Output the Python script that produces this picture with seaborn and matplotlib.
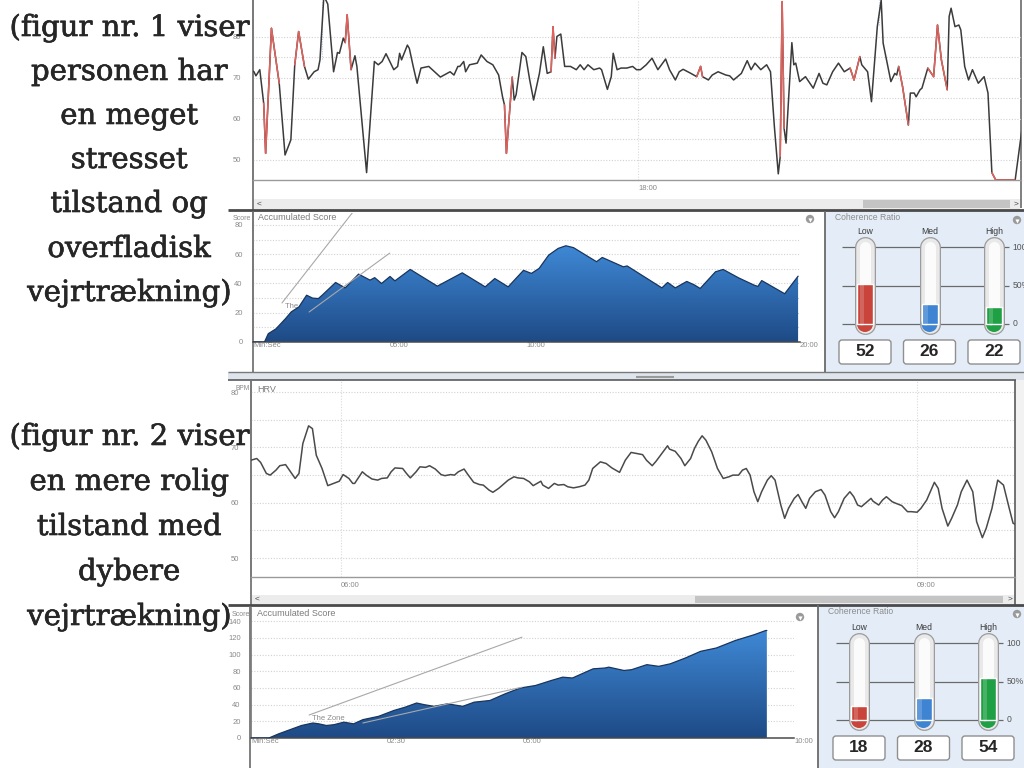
import numpy as np
import matplotlib
matplotlib.use('Agg')
import matplotlib.pyplot as plt
import matplotlib.patheffects as pe
import seaborn as sns
from matplotlib.patches import Rectangle, FancyBboxPatch, Circle
from matplotlib.colors import LinearSegmentedColormap

# ---------------------------------------------------------
# data
caption_1 = ['(figur nr. 1 viser', 'personen har', 'en meget', 'stresset',
             'tilstand og', 'overfladisk', 'vejrtrækning)']
caption_2 = ['(figur nr. 2 viser', 'en mere rolig', 'tilstand med', 'dybere',
             'vejrtrækning)']

# HRV 1 (minutes, BPM, 1 = red artifact segment to next point)
hrv1_time = [16.00, 16.02, 16.03, 16.05, 16.07, 16.08, 16.11, 16.15, 16.18, 16.21,
             16.23, 16.25, 16.28, 16.30, 16.33, 16.35, 16.36, 16.38, 16.40, 16.43,
             16.45, 16.46, 16.48, 16.49, 16.50, 16.52, 16.54, 16.55, 16.60, 16.64,
             16.66, 16.68, 16.70, 16.74, 16.76, 16.77, 16.78, 16.81, 16.82, 16.84,
             16.86, 16.88, 16.92, 16.98, 17.03, 17.05, 17.07, 17.08, 17.10, 17.11,
             17.13, 17.17, 17.19, 17.22, 17.25, 17.28, 17.30, 17.31, 17.32, 17.35,
             17.36, 17.37, 17.40, 17.42, 17.44, 17.46, 17.49, 17.51, 17.53, 17.55,
             17.56, 17.57, 17.58, 17.60, 17.62, 17.65, 17.68, 17.70, 17.72, 17.74,
             17.77, 17.80, 17.81, 17.84, 17.86, 17.87, 17.89, 17.91, 17.94, 17.97,
             17.99, 18.01, 18.04, 18.07, 18.10, 18.14, 18.16, 18.19, 18.21, 18.23,
             18.27, 18.30, 18.32, 18.33, 18.36, 18.38, 18.41, 18.45, 18.47, 18.49,
             18.53, 18.56, 18.58, 18.60, 18.63, 18.66, 18.68, 18.70, 18.72, 18.73,
             18.74, 18.75, 18.76, 18.79, 18.80, 18.81, 18.83, 18.86, 18.90, 18.93,
             18.95, 18.97, 19.00, 19.03, 19.06, 19.09, 19.11, 19.14, 19.15, 19.18,
             19.20, 19.23, 19.25, 19.26, 19.30, 19.32, 19.33, 19.34, 19.36, 19.39,
             19.40, 19.42, 19.43, 19.45, 19.46, 19.49, 19.52, 19.54, 19.56, 19.59,
             19.60, 19.61, 19.63, 19.65, 19.66, 19.68, 19.70, 19.72, 19.75, 19.78,
             19.80, 19.82, 19.84, 19.94, 19.98]
hrv1_bpm = [72.0, 71.5, 70.5, 72.0, 63.8, 51.6, 82.1, 68.7, 51.2, 54.9,
            73.2, 81.3, 72.8, 69.7, 71.5, 72.0, 74.4, 90.0, 88.0, 71.5,
            76.2, 76.0, 79.7, 78.6, 85.4, 72.0, 75.4, 72.8, 46.9, 74.0,
            73.2, 74.0, 75.9, 72.0, 72.8, 76.0, 74.4, 78.0, 77.2, 72.8,
            68.7, 72.4, 72.8, 70.2, 71.5, 70.7, 72.8, 72.8, 74.0, 71.5,
            73.2, 73.6, 75.6, 74.0, 73.2, 70.7, 65.4, 63.4, 51.6, 70.2,
            64.6, 65.9, 76.2, 75.2, 69.5, 64.6, 71.1, 77.6, 71.1, 71.5,
            82.5, 74.8, 80.1, 80.7, 72.8, 72.8, 72.0, 73.2, 72.0, 73.2,
            72.0, 72.4, 72.0, 67.2, 70.3, 76.0, 72.0, 72.4, 72.4, 72.8,
            72.0, 72.0, 73.2, 74.8, 72.0, 74.6, 72.0, 69.5, 71.5, 72.1,
            71.1, 70.3, 72.8, 70.3, 69.5, 70.7, 71.5, 70.7, 70.5, 69.5,
            71.1, 74.2, 72.0, 73.6, 72.0, 73.2, 71.5, 58.1, 46.6, 50.8,
            88.6, 57.7, 54.1, 78.6, 73.2, 73.6, 69.1, 70.3, 67.5, 71.1,
            68.7, 68.3, 71.5, 73.6, 71.5, 72.4, 69.5, 75.2, 73.2, 71.5,
            64.2, 82.5, 89.0, 78.5, 69.1, 71.1, 70.7, 72.8, 67.9, 58.5,
            66.3, 66.3, 65.4, 67.1, 67.5, 72.4, 70.3, 82.9, 74.4, 67.1,
            85.0, 87.0, 82.5, 82.9, 81.7, 72.8, 69.5, 72.0, 68.7, 70.3,
            66.3, 46.9, 45.1, 45.1, 59.3]
hrv1_artifact = [0, 0, 0, 0, 1, 1, 1, 0, 0, 0,
                 1, 1, 0, 0, 0, 0, 0, 0, 0, 0,
                 0, 0, 0, 1, 1, 0, 0, 0, 0, 0,
                 0, 0, 0, 0, 0, 0, 0, 0, 0, 0,
                 0, 0, 0, 0, 0, 0, 0, 0, 0, 0,
                 0, 0, 0, 0, 0, 0, 0, 1, 1, 0,
                 0, 0, 0, 0, 0, 0, 0, 0, 0, 1,
                 1, 0, 0, 0, 0, 0, 0, 0, 0, 0,
                 0, 0, 0, 0, 0, 0, 0, 0, 0, 0,
                 0, 0, 0, 0, 0, 0, 0, 0, 0, 0,
                 0, 1, 1, 0, 0, 0, 0, 0, 0, 0,
                 0, 0, 0, 0, 0, 0, 0, 0, 0, 1,
                 1, 0, 0, 0, 0, 0, 0, 0, 0, 0,
                 0, 0, 0, 0, 0, 1, 1, 0, 0, 0,
                 0, 0, 0, 0, 0, 0, 0, 1, 1, 0,
                 0, 0, 0, 0, 0, 1, 1, 1, 1, 0,
                 0, 0, 0, 0, 0, 0, 0, 0, 0, 0,
                 0, 1, 1, 0, 0]

# HRV 2 (minutes, BPM)
hrv2_time = [5.53, 5.56, 5.58, 5.61, 5.63, 5.66, 5.68, 5.71, 5.73, 5.76,
             5.78, 5.80, 5.83, 5.85, 5.87, 5.90, 5.93, 5.96, 5.99, 6.01,
             6.04, 6.06, 6.07, 6.11, 6.13, 6.16, 6.19, 6.21, 6.24, 6.26,
             6.28, 6.32, 6.34, 6.36, 6.39, 6.41, 6.44, 6.46, 6.49, 6.52,
             6.54, 6.57, 6.59, 6.61, 6.64, 6.66, 6.69, 6.72, 6.74, 6.77,
             6.79, 6.82, 6.85, 6.87, 6.90, 6.92, 6.95, 6.98, 7.00, 7.04,
             7.05, 7.08, 7.11, 7.13, 7.16, 7.18, 7.21, 7.24, 7.27, 7.29,
             7.31, 7.35, 7.38, 7.41, 7.45, 7.48, 7.51, 7.54, 7.57, 7.59,
             7.62, 7.64, 7.67, 7.70, 7.71, 7.74, 7.77, 7.79, 7.82, 7.84,
             7.86, 7.88, 7.90, 7.93, 7.96, 7.99, 8.02, 8.04, 8.07, 8.09,
             8.11, 8.13, 8.15, 8.17, 8.19, 8.22, 8.24, 8.26, 8.29, 8.31,
             8.33, 8.36, 8.38, 8.40, 8.42, 8.44, 8.47, 8.50, 8.52, 8.55,
             8.57, 8.59, 8.62, 8.65, 8.67, 8.69, 8.71, 8.73, 8.76, 8.77,
             8.80, 8.82, 8.84, 8.87, 8.89, 8.92, 8.95, 8.97, 9.00, 9.02,
             9.05, 9.09, 9.11, 9.13, 9.16, 9.18, 9.21, 9.23, 9.26, 9.29,
             9.31, 9.34, 9.36, 9.39, 9.42, 9.45, 9.48, 9.50, 9.52]
hrv2_bpm = [67.7, 68.0, 67.3, 65.3, 65.0, 65.9, 66.7, 66.9, 65.9, 64.4,
            65.3, 70.7, 73.9, 73.4, 68.6, 66.2, 63.1, 63.5, 63.9, 65.1,
            64.4, 63.5, 63.5, 65.6, 65.0, 64.3, 64.1, 64.4, 64.5, 65.6,
            66.3, 66.2, 65.3, 64.5, 65.6, 66.5, 66.4, 66.7, 66.1, 65.1,
            64.9, 65.1, 65.0, 65.6, 66.1, 65.1, 63.7, 63.3, 63.2, 62.3,
            61.9, 62.6, 63.5, 64.1, 64.7, 64.5, 64.4, 63.8, 63.1, 63.9,
            63.2, 62.6, 63.5, 63.2, 63.3, 62.9, 62.7, 62.9, 63.2, 64.1,
            66.2, 67.4, 67.1, 66.3, 65.5, 67.7, 69.1, 68.9, 68.7, 67.7,
            66.7, 67.5, 68.9, 70.3, 69.7, 69.3, 68.0, 66.7, 68.0, 69.8,
            71.1, 72.1, 71.3, 69.2, 66.2, 64.4, 64.7, 65.0, 65.0, 65.9,
            66.2, 65.0, 62.0, 60.2, 62.0, 64.1, 64.9, 64.1, 59.6, 57.2,
            59.0, 60.8, 61.5, 60.2, 59.0, 60.8, 62.0, 62.4, 61.4, 58.4,
            57.3, 58.4, 60.8, 62.0, 61.1, 59.6, 59.3, 59.9, 60.8, 60.3,
            59.6, 60.5, 61.1, 60.2, 59.9, 59.5, 58.4, 58.4, 58.3, 59.0,
            60.5, 63.7, 62.6, 59.0, 55.8, 57.2, 59.6, 62.0, 64.1, 62.0,
            56.6, 53.7, 55.4, 59.0, 64.1, 63.2, 59.0, 56.3, 56.0]

# Accumulated score 1 (minutes, score)
score1_time = [0, 0.42, 0.56, 0.84, 1.19, 1.40, 1.68, 1.96, 2.18, 2.39, 2.53, 3.02,
               3.37, 3.86, 4.28, 4.45, 4.70, 5.01, 5.19, 5.75, 6.74, 7.65, 8.49,
               8.84, 9.33, 9.89, 10.18, 10.46, 10.81, 11.16, 11.44, 11.72, 12.56,
               12.77, 13.54, 13.68, 14.95, 15.16, 15.44, 15.86, 16.14, 16.35, 16.91,
               17.19, 17.75, 18.32, 18.46, 18.60, 19.44, 19.93]
score1_value = [0, 0, 5.7, 9, 16, 20.6, 24, 32, 30, 29.7, 32, 40.7,
                37, 46.4, 42.3, 44, 40, 44.8, 41.8, 49.6, 38.2, 47.3, 37.7,
                43.4, 37.7, 49, 46.9, 50.3, 59.4, 64, 65.8, 64.5, 54.9,
                57.8, 51.4, 52, 37, 40.7, 37, 41.4, 39, 36.6, 48,
                49.6, 43.9, 38.9, 38, 42, 33, 45]

# Accumulated score 2 (minutes, score)
score2_time = [0, 0.33, 0.51, 0.72, 0.93, 1.14, 1.25, 1.39, 1.53, 1.71, 1.89, 2.06,
               2.35, 2.63, 2.84, 3.05, 3.19, 3.37, 3.62, 3.90, 4.11, 4.40, 4.68,
               4.96, 5.24, 5.53, 5.74, 5.92, 6.30, 6.52, 6.59, 6.87, 7.01, 7.29,
               7.51, 7.72, 8.00, 8.28, 8.57, 8.92, 9.27, 9.48, 9.50]
score2_value = [0, 0, 5, 10, 15, 18, 17, 15, 16, 19, 17, 22,
                26, 33, 37, 42, 40, 38, 41, 38, 43, 45, 53,
                60, 63, 69, 73, 72, 83, 84, 85, 81, 82, 88,
                86, 89, 96, 104, 108, 117, 124, 129, 129]

# "The Zone" guide lines: (t0, v0, t1, v1)
zone1_upper = [1.06, 26.7, 3.66, 89.0]
zone1_lower = [2.05, 20.5, 5.00, 60.8]
zone2_upper = [1.07, 27.6, 4.99, 121.0]
zone2_lower = [2.06, 18.0, 4.99, 61.0]

coh_labels = ['Low', 'Med', 'High']
coh1_values = [52, 26, 22]
coh2_values = [18, 28, 54]
coh_colors = ['#c9443b', '#3f84d2', '#1fa044']

# ---------------------------------------------------------
sns.set_theme(style='white')
plt.rcParams['font.family'] = ['Liberation Sans', 'DejaVu Sans']
plt.rcParams['axes.unicode_minus'] = False

W, H = 1024, 768
fig = plt.figure(figsize=(10.24, 7.68), dpi=100)
fig.patch.set_facecolor('white')

GRAY_TXT = '#8a8a8a'
FS_TICK = 5.5


def pt(px):
    return px * 0.72


def add_px_axes(x0, y0, x1, y1, z=2):
    ax = fig.add_axes([x0 / W, 1 - y1 / H, (x1 - x0) / W, (y1 - y0) / H], zorder=z)
    ax.patch.set_alpha(0)
    for s in ax.spines.values():
        s.set_visible(False)
    return ax


bg = fig.add_axes([0, 0, 1, 1], zorder=0)
bg.set_xlim(0, W)
bg.set_ylim(H, 0)
bg.axis('off')


def bg_line(x0, y0, x1, y1, color='#5a5a5a', lw=1.0):
    bg.plot([x0, x1], [y0, y1], color=color, lw=lw, solid_capstyle='butt')


def bg_rect(x0, y0, x1, y1, fc, ec='none', lw=0.0):
    bg.add_patch(Rectangle((x0, y0), x1 - x0, y1 - y0, fc=fc, ec=ec, lw=lw))


def menu_icon(x, y):
    bg.add_patch(Circle((x, y), 4.2, fc='#9a9a9a', ec='none'))
    bg.plot([x], [y + 0.6], marker='v', ms=3, color='white', mec='none')


def scrollbar(x0, x1, y0, y1, t0, t1):
    bg_rect(x0, y0, x1, y1, '#ececec')
    bg_rect(t0, y0 + 1, t1, y1 - 1, '#c4c4c4')
    bg.text(x0 + 5, (y0 + y1) / 2, '<', fontsize=6, color='#444', va='center', ha='center')
    bg.text(x1 - 4, (y0 + y1) / 2, '>', fontsize=6, color='#444', va='center', ha='center')


def style_ticks(ax):
    ax.tick_params(axis='both', which='both', colors='#8c8c8c', labelcolor=GRAY_TXT,
                   labelsize=FS_TICK, direction='out', width=0.7)


def hrv_axis(ax, t, bpm, xlim, ylim, xticks, xlabels, vgrid, color):
    sns.lineplot(x=t, y=bpm, ax=ax, color=color, lw=1.1, sort=False,
                 estimator=None, zorder=3)
    ax.set_xlim(*xlim)
    ax.set_ylim(*ylim)
    for g in range(50, 85, 5):
        ax.axhline(g, color='#d2d2d2', ls=(0, (1, 1.5)), lw=0.8, zorder=1)
    for g in vgrid:
        ax.axvline(g, color='#dadada', ls=(0, (1, 1.5)), lw=0.8, zorder=1)
    ax.spines['left'].set_visible(True)
    ax.spines['left'].set_color('#7a7a7a')
    ax.spines['left'].set_linewidth(1.2)
    ax.spines['bottom'].set_visible(True)
    ax.spines['bottom'].set_color('#9a9a9a')
    ax.spines['bottom'].set_linewidth(1.0)
    ax.set_yticks([50, 60, 70, 80])
    ax.set_yticks(np.arange(np.ceil(ylim[0]), ylim[1], 1), minor=True)
    ax.set_xticks(xticks)
    ax.set_xticklabels(xlabels)
    ax.set_xticks([], minor=True)
    style_ticks(ax)
    ax.tick_params(axis='y', which='major', length=pt(11), pad=1)
    ax.tick_params(axis='y', which='minor', length=pt(5))
    ax.tick_params(axis='x', which='major', length=pt(4), pad=1)
    for lab in ax.get_xticklabels():
        lab.set_horizontalalignment('left')
    ax.set_xlabel('')
    ax.set_ylabel('')


def score_axis(ax, t, v, xmax, ymax, yticks, xticks, xlabels, grid_step, zone_a, zone_b):
    poly = ax.fill_between(t, v, 0, facecolor='none', edgecolor='none')
    grad = np.linspace(0, 1, 256).reshape(-1, 1)
    cmap = LinearSegmentedColormap.from_list('acc', ['#1e4a86', '#3f89d6'])
    im = ax.imshow(grad, cmap=cmap, origin='lower', aspect='auto',
                   extent=[min(t), max(t), 0, max(v)], zorder=2)
    im.set_clip_path(poly.get_paths()[0], transform=ax.transData)
    sns.lineplot(x=t, y=v, ax=ax, color='#18355e', lw=0.9, sort=False,
                 estimator=None, zorder=3)
    for z in (zone_a, zone_b):
        ax.plot([z[0], z[2]], [z[1], z[3]], color='#a8a8a8', lw=0.8, zorder=4)
    ax.text(zone_a[0] + 0.06 * xmax / 10, zone_a[1] - 0.03 * ymax, 'The Zone',
            fontsize=5.5, color='#8a8a8a', ha='left', va='center', zorder=1)
    for g in np.arange(grid_step, ymax, grid_step):
        ax.axhline(g, color='#d2d2d2', ls=(0, (1, 1.5)), lw=0.8, zorder=1)
    ax.set_xlim(0, xmax)
    ax.set_ylim(0, ymax)
    ax.spines['left'].set_visible(True)
    ax.spines['left'].set_color('#7a7a7a')
    ax.spines['bottom'].set_visible(True)
    ax.spines['bottom'].set_color('#4a4a4a')
    ax.spines['bottom'].set_linewidth(1.1)
    ax.set_yticks(yticks)
    ax.set_xticks(xticks)
    ax.set_xticklabels(xlabels)
    style_ticks(ax)
    ax.tick_params(axis='y', length=pt(9), pad=1)
    ax.tick_params(axis='x', length=pt(8), pad=-pt(8))
    for lab in ax.get_xticklabels():
        lab.set_horizontalalignment('left')
        lab.set_verticalalignment('top')
    ax.set_xlabel('')
    ax.set_ylabel('')


def coherence_panel(x0, y0, x1, y1, zero_px, hundred_px, c0_px, values):
    sp = 64.5
    bg_rect(x0, y0, x1, y1, '#e4edf7')
    bg_line(x0, y0, x0, y1, color='#6a6a6a', lw=1.3)
    bg.text(x0 + 10, y0 + 7, 'Coherence Ratio', fontsize=6.2, color='#8c8c8c', va='center')
    menu_icon(x1 - 7, y0 + 9)
    for i in range(3):
        cx = c0_px + i * sp
        bg.add_patch(FancyBboxPatch((cx - 26, zero_px + 16), 52, 24,
                                    boxstyle='round,pad=0,rounding_size=3',
                                    fc='white', ec='#8f8f8f', lw=1.0))
    ppp = (zero_px - hundred_px) / 100.0
    ax = add_px_axes(x0, y0, x1, y1, z=3)
    ax.axis('off')
    sns.barplot(x=coh_labels, y=values, hue=coh_labels, palette=coh_colors,
                width=16 / sp, legend=False, ax=ax, zorder=4, saturation=1)
    ax.hlines([0, 50, 100], -0.36, 2.23, color='#6a6a6a', lw=0.9, zorder=1)
    for i, (lab, val, col) in enumerate(zip(coh_labels, values, coh_colors)):
        ax.plot([i, i], [0, 100], color='#9b9b9b', lw=pt(21), solid_capstyle='round', zorder=2)
        ax.plot([i, i], [0, 100], color='#e9e9e9', lw=pt(18.5), solid_capstyle='round', zorder=2)
        ax.plot([i, i], [0, 100], color='#fbfbfb', lw=pt(11), solid_capstyle='round', zorder=2)
        ax.scatter([i], [0], s=pt(16) ** 2, color=col, edgecolor='none', zorder=3)
        ax.plot([i - 0.05, i - 0.05], [0, val], color='white', alpha=0.18, lw=pt(4), zorder=5)
        ax.text(i, 100 + 15 / ppp, lab, fontsize=6.2, color='#3a3a3a', ha='center', va='center')
        ax.text(i, -28 / ppp, f'{val}', fontsize=12.5, fontweight='bold', color='#262626',
                ha='center', va='center', zorder=5)
    for pct, lab in zip([100, 50, 0], ['100', '50%', '0']):
        ax.text(2.29, pct, lab, fontsize=6.2, color='#555555', ha='left', va='center')
    ax.set_ylim(-(y1 - zero_px) / ppp, 100 + (hundred_px - y0) / ppp)
    ax.set_xlim(-(c0_px - x0) / sp, (x1 - c0_px) / sp)
    ax.set_xlabel('')
    ax.set_ylabel('')


# ---------------------------------------------------------
# panel frames / chrome
bg_rect(228, 372, 1024, 380, '#dfe5ec')
bg_line(636, 377, 674, 377, color='#9a9a9a', lw=1.5)
bg_rect(1015, 380, 1024, 605, '#f2f2f2')
bg_line(253, 0, 253, 210, color='#6a6a6a', lw=1.2)
bg_line(1021, 0, 1021, 208, color='#6a6a6a', lw=1.2)
bg_line(228, 210, 1024, 210, color='#4a4a4a', lw=2.0)
bg_line(253, 211, 253, 372, color='#6a6a6a', lw=1.2)
bg_line(228, 372, 1024, 372, color='#7a7a7a', lw=1.0)
bg_line(228, 380, 1016, 380, color='#5a5a5a', lw=1.2)
bg_line(251, 380, 251, 605, color='#6a6a6a', lw=1.2)
bg_line(1015, 380, 1015, 605, color='#5a5a5a', lw=1.2)
bg_line(228, 605, 1024, 605, color='#4a4a4a', lw=2.0)
bg_line(250, 606, 250, 768, color='#6a6a6a', lw=1.2)

scrollbar(254, 1020, 199, 209, 863, 1010)
scrollbar(252, 1014, 595, 604, 695, 1003)

# ---------------------------------------------------------
# HRV 1
ax1 = add_px_axes(253, 0, 1021, 180)
hrv_axis(ax1, hrv1_time, hrv1_bpm, (16.015, 19.97), (45.1, 89.0),
         np.arange(16.5, 19.6, 0.5), ['', '', '', '18:00', '', '', ''], [18.0], '#3b3b3b')
for i, flag in enumerate(hrv1_artifact[:-1]):
    if flag:
        ax1.plot(hrv1_time[i:i + 2], hrv1_bpm[i:i + 2], color='#e3625c', lw=1.1, zorder=4)
ax1.plot([16.37, 16.37], [74.5, 89], color='#b9cde2', ls=(0, (1, 1.2)), lw=0.8, zorder=2)
ax1.plot([19.24, 19.24], [83, 89], color='#b9cde2', ls=(0, (1, 1.2)), lw=0.8, zorder=2)

# accumulated score 1
ax2 = add_px_axes(253, 213, 800, 342)
score_axis(ax2, score1_time, score1_value, 20, 88.2, [0, 20, 40, 60, 80],
           np.arange(0, 20.1, 2.5), ['Min:Sec', '', '05:00', '', '10:00', '', '', '', '20:00'],
           10, zone1_upper, zone1_lower)
bg.text(233, 218, 'Score', fontsize=5, color=GRAY_TXT, va='center')
bg.text(258, 217, 'Accumulated Score', fontsize=6.5, color='#7c7c7c', va='center')
menu_icon(810, 219)

coherence_panel(825, 211, 1024, 372, 324, 247, 865, coh1_values)

# HRV 2
ax3 = add_px_axes(251, 381, 1015, 577)
hrv_axis(ax3, hrv2_time, hrv2_bpm, (5.53, 9.51), (46.6, 82.0),
         np.arange(6.0, 9.6, 0.5), ['06:00', '', '', '', '', '', '09:00', ''], [6.0, 9.0],
         '#4a4a4a')
bg.text(235, 388, 'BPM', fontsize=4.8, color=GRAY_TXT, va='center')
bg.text(257, 390, 'HRV', fontsize=6.5, color='#7c7c7c', va='center')

# accumulated score 2
ax4 = add_px_axes(251, 608, 794, 738)
score_axis(ax4, score2_time, score2_value, 10, 156, [0, 20, 40, 60, 80, 100, 120, 140],
           np.arange(0, 10.1, 1.25), ['Min:Sec', '', '02:30', '', '05:00', '', '', '', '10:00'],
           20, zone2_upper, zone2_lower)
bg.text(232, 614, 'Score', fontsize=5, color=GRAY_TXT, va='center')
bg.text(257, 614, 'Accumulated Score', fontsize=6.5, color='#7c7c7c', va='center')
menu_icon(800, 617)

coherence_panel(818, 605, 1024, 768, 720, 643, 859, coh2_values)

# ---------------------------------------------------------
# captions (drawn over the screenshot, as in the original)
thick = [pe.withStroke(linewidth=0.45, foreground='#262626')]
for lines, baselines in ((caption_1, [36, 80, 124, 168, 212, 257, 301]),
                         (caption_2, [445, 490, 535, 580, 625])):
    for txt, yb in zip(lines, baselines):
        fig.text(129 / W, 1 - yb / H, txt, ha='center', va='baseline', fontsize=21,
                 family=['DejaVu Serif'], color='#262626', zorder=10, path_effects=thick)

fig.savefig('out.png', dpi=100, facecolor='white')
